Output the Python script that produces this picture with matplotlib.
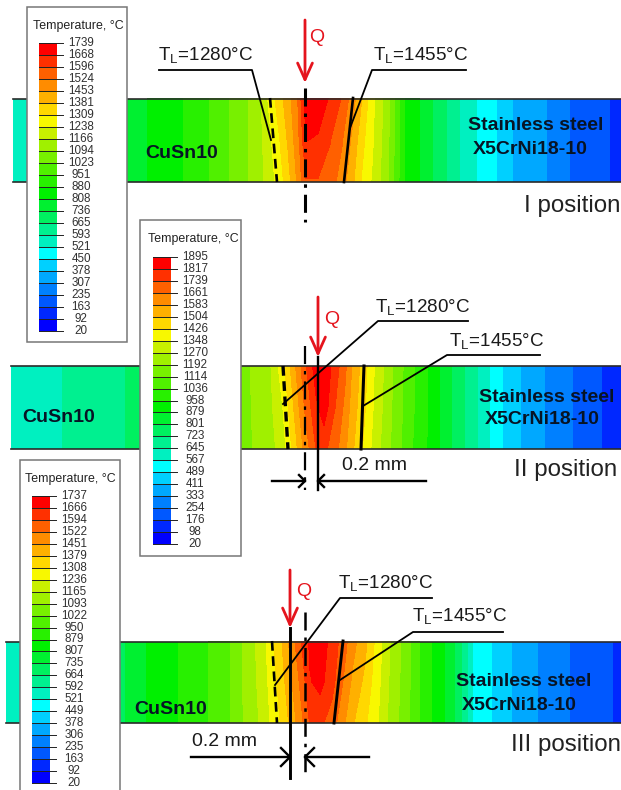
import matplotlib
matplotlib.use("Agg")
import matplotlib.pyplot as plt
import numpy as np
from matplotlib.colors import ListedColormap

plt.rcParams['font.family'] = ['Liberation Sans', 'DejaVu Sans']
plt.rcParams['mathtext.fontset'] = 'custom'
plt.rcParams['mathtext.rm'] = 'Liberation Sans'
plt.rcParams['mathtext.default'] = 'rm'
plt.rcParams['lines.scale_dashes'] = False

# band colours of the legend, hot to cold
band_colors = ['#ff0000', '#ff3000', '#ff6000', '#ff8c00', '#ffb000', '#ffd800',
               '#f8f800', '#c8f000', '#a0f000', '#78f000', '#50f000', '#28f000',
               '#00f000', '#00f030', '#00f060', '#00f090', '#00f0c0', '#00ffff',
               '#00d0ff', '#00a8ff', '#0080ff', '#0058ff', '#0028ff', '#0000ff']

labels_1 = [1739, 1668, 1596, 1524, 1453, 1381, 1309, 1238, 1166, 1094, 1023, 951, 880,
            808, 736, 665, 593, 521, 450, 378, 307, 235, 163, 92, 20]
labels_2 = [1895, 1817, 1739, 1661, 1583, 1504, 1426, 1348, 1270, 1192, 1114, 1036, 958,
            879, 801, 723, 645, 567, 489, 411, 333, 254, 176, 98, 20]
labels_3 = [1737, 1666, 1594, 1522, 1451, 1379, 1308, 1236, 1165, 1093, 1022, 950, 879,
            807, 735, 664, 592, 521, 449, 378, 306, 235, 163, 92, 20]

# temperature read along each plate: position, then top / middle / bottom row
x_1 = [13, 127, 165, 200, 240, 258, 268, 278, 288, 298, 306, 318, 330, 342, 352, 362, 372,
       387, 405, 420, 433, 447, 460, 477, 497, 513, 547, 570, 610, 621]
cold_1 = [808, 736, 665, 593, 521, 450, 378, 307, 235, 163, 140]
top_1 = [560, 770, 840, 915, 1060, 1130, 1240, 1340, 1420, 1530, 1710, 1710, 1660, 1590,
         1490, 1380, 1260, 1130, 880] + cold_1
mid_1 = [560, 770, 840, 915, 1060, 1130, 1210, 1290, 1390, 1500, 1670, 1660, 1600, 1530,
         1440, 1330, 1250, 1120, 880] + cold_1
bot_1 = [560, 770, 840, 915, 1060, 1130, 1190, 1260, 1350, 1470, 1590, 1590, 1560, 1490,
         1400, 1300, 1230, 1110, 870] + cold_1

x_2 = [11, 68, 115, 140, 241, 270, 283, 292, 305, 316, 324, 335, 345, 352, 363, 375, 392,
       410, 428, 440, 452, 465, 478, 490, 503, 521, 545, 573, 602, 621]
cold_2 = [879, 801, 723, 645, 567, 489, 411, 333, 254, 176, 120]
top_2 = [600, 650, 700, 760, 1160, 1260, 1400, 1530, 1720, 1860, 1880, 1780, 1680, 1580,
         1470, 1340, 1200, 1060, 958] + cold_2
mid_2 = [600, 650, 700, 760, 1160, 1250, 1350, 1480, 1670, 1800, 1860, 1740, 1640, 1550,
         1450, 1330, 1190, 1060, 958] + cold_2
bot_2 = [600, 650, 700, 760, 1160, 1240, 1310, 1430, 1610, 1740, 1760, 1690, 1600, 1520,
         1420, 1310, 1180, 1050, 950] + cold_2

x_3 = [6, 120, 130, 165, 200, 225, 245, 262, 272, 282, 292, 302, 310, 320, 332, 343, 352,
       365, 375, 388, 405, 420, 432, 445, 455, 462, 468, 473, 492, 512, 538, 570, 613, 621]
cold_3 = [879, 807, 735, 664, 592, 521, 449, 378, 306, 235, 163, 150]
top_3 = [560, 700, 770, 850, 930, 990, 1110, 1200, 1290, 1380, 1490, 1600, 1680, 1710, 1640,
         1560, 1480, 1400, 1300, 1180, 1060, 950] + cold_3
mid_3 = [560, 700, 770, 850, 930, 990, 1110, 1190, 1270, 1350, 1450, 1550, 1660, 1690, 1620,
         1520, 1440, 1360, 1280, 1170, 1060, 950] + cold_3
bot_3 = [560, 700, 770, 850, 930, 990, 1100, 1180, 1250, 1320, 1410, 1510, 1600, 1610, 1560,
         1470, 1390, 1320, 1260, 1160, 1050, 950] + cold_3

edge = '#2a2a2a'
red = '#e5141d'
ink = '#071425'

fig = plt.figure(figsize=(6.21, 7.90), dpi=100)
ax = fig.add_axes([0, 0, 1, 1])
ax.set_xlim(0, 621)
ax.set_ylim(790, 0)
ax.axis('off')


def plate(x, rows, labels, y0, y1):
    levels = labels[::-1]
    cmap = ListedColormap(band_colors[::-1])
    ys = [y0, (y0 + y1) / 2, y1]
    ax.contourf(x, ys, np.array(rows, dtype=float), levels=levels, cmap=cmap,
                vmin=levels[0], vmax=levels[-1], zorder=1)
    ax.plot([x[0], 621], [y0, y0], color=edge, lw=1.2, zorder=2)
    ax.plot([x[0], 621], [y1, y1], color=edge, lw=1.2, zorder=2)


def legend(labels, bx0, bx1, by0, by1, x0, x1, top, bottom, lx, tx, ty):
    ax.fill([bx0, bx1, bx1, bx0], [by0, by0, by1, by1], facecolor='white',
            edgecolor='#777777', lw=1.1, zorder=6)
    n = len(labels)
    edges = np.linspace(top, bottom, n)
    ax.pcolormesh([x0, x1], edges, np.arange(n - 1).reshape(-1, 1),
                  cmap=ListedColormap(band_colors), zorder=7)
    for i, lab in enumerate(labels):
        ax.plot([x0, x1 + 6], [edges[i], edges[i]], color='#222222', lw=0.7, zorder=8)
        ax.text(lx, edges[i], str(lab), ha='center', va='center', fontsize=8.4,
                color='#303030', zorder=8)
    ax.text(tx, ty, 'Temperature, \u00b0C', ha='center', va='center', fontsize=8.9,
            color='#222222', zorder=8)


def heat_arrow(x, y0, y1, qx, qy):
    ax.annotate('', xy=(x, y1), xytext=(x, y0), zorder=5,
                arrowprops=dict(arrowstyle='->,head_length=0.85,head_width=0.38', color=red,
                                lw=2, shrinkA=0, shrinkB=0, mutation_scale=14))
    ax.text(qx, qy, 'Q', color=red, fontsize=14, ha='center', va='center', zorder=5)


def chain(x, y0, y1, lw):
    ax.plot([x, x], [y0, y1], color='black', lw=lw, zorder=4,
            dashes=(13, 5, 2.5, 5), dash_capstyle='butt')


def isotherm(p0, p1, dashed=False, lw=1.9):
    if dashed:
        ax.plot([p0[0], p1[0]], [p0[1], p1[1]], color='black', lw=lw, zorder=4,
                dashes=(7, 4), dash_capstyle='butt')
    else:
        ax.plot([p0[0], p1[0]], [p0[1], p1[1]], color='black', lw=lw, zorder=4)


def callout(name, tx, ty, pts):
    ax.text(tx, ty, 'T$_{L}$=' + name + '\u00b0C', fontsize=13.6, color='#1a1a1a',
            ha='left', va='center', zorder=5)
    ax.plot([p[0] for p in pts], [p[1] for p in pts], color='black', lw=1.3, zorder=4)


def dim_arrows(x_left, tip_l, tip_r, x_right, y, size):
    ax.plot([x_left, tip_l], [y, y], color='black', lw=1.7, zorder=4)
    ax.plot([tip_r, x_right], [y, y], color='black', lw=1.7, zorder=4)
    for tip, s in ((tip_l, -1), (tip_r, 1)):
        ax.plot([tip + s * size, tip, tip + s * size], [y - size, y, y + size],
                color='black', lw=1.7, zorder=4)


def names(cu, sx, sy, xx, xy):
    ax.text(cu[0], cu[1], 'CuSn10', fontsize=14, fontweight='bold', color=ink,
            ha='left', va='center', zorder=3)
    ax.text(sx, sy, 'Stainless steel', fontsize=14, fontweight='bold', color=ink,
            ha='center', va='center', zorder=3)
    ax.text(xx, xy, 'X5CrNi18-10', fontsize=14, fontweight='bold', color=ink,
            ha='center', va='center', zorder=3)


# I position
plate(x_1, [top_1, mid_1, bot_1], labels_1, 98.5, 182)
heat_arrow(305, 20, 83, 317, 38)
chain(305, 88, 222, 2.2)
isotherm((270, 98), (277, 182), dashed=True)
isotherm((353, 98), (344, 182))
callout('1280', 158, 55, [(159, 70), (252, 70), (271, 140)])
callout('1455', 373, 55, [(466, 70), (372, 70), (350, 128)])
names((145, 154), 536, 126, 530, 150)
ax.text(621, 206, 'I position', fontsize=17.4, ha='right', va='center', color='#222222')
legend(labels_1, 27, 127, 7, 342, 39, 57, 43, 331, 81, 78, 26)

# II position
plate(x_2, [top_2, mid_2, bot_2], labels_2, 366, 449)
heat_arrow(318, 297, 357, 332, 319)
chain(305, 346, 490, 1.6)
ax.plot([318, 318], [357, 490], color='black', lw=1.7, zorder=4)
isotherm((283, 366), (288, 449), dashed=True, lw=2.4)
isotherm((364, 366), (361, 449), lw=2.2)
callout('1280', 375, 307, [(468, 321), (378, 321), (283, 404)])
callout('1455', 449, 341, [(540, 355), (447, 355), (363, 406)])
dim_arrows(272, 305, 318, 426, 481, 6)
ax.text(375, 466, '0.2 mm', fontsize=14, ha='center', va='center', color='#1a1a1a')
names((22, 417), 547, 397, 542, 420)
ax.text(617, 470, 'II position', fontsize=17.4, ha='right', va='center', color='#222222')
legend(labels_2, 140, 241, 220, 556, 153, 171, 257, 544, 195, 193, 239)

# III position
plate(x_3, [top_3, mid_3, bot_3], labels_3, 641.5, 723)
heat_arrow(290, 570, 628, 304, 591)
chain(305, 612, 778, 1.8)
ax.plot([290, 290], [628, 778], color='black', lw=2.1, zorder=4)
isotherm((272, 641), (277, 723), dashed=True)
isotherm((343, 641), (334, 723), lw=2.1)
callout('1280', 338, 583, [(432, 598), (340, 598), (275, 685)])
callout('1455', 412, 616, [(503, 632), (413, 632), (340, 680)])
dim_arrows(191, 290, 305, 369, 757, 9)
ax.text(224, 742, '0.2 mm', fontsize=14, ha='center', va='center', color='#1a1a1a')
names((134, 710), 524, 682, 519, 706)
ax.text(621, 745, 'III position', fontsize=17.4, ha='right', va='center', color='#222222')
legend(labels_3, 20, 120, 460, 800, 32, 50, 496, 783, 74, 70, 479)

fig.savefig('out.png', dpi=100)
